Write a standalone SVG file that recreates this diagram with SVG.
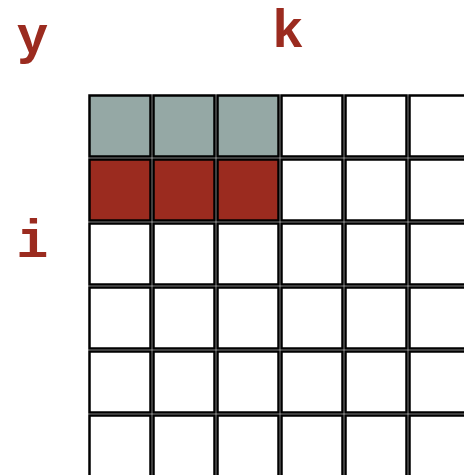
<svg xmlns="http://www.w3.org/2000/svg" width="464" height="475" viewBox="0 0 464 475">
<style>
.c{fill:#fff;stroke:#000;stroke-width:2.5}
.g{fill:#95a8a5}
.r{fill:#9b2b1f}
.t{font-family:"Liberation Mono","Courier New",monospace;font-weight:bold;font-size:53px;fill:#9b2b1f;text-anchor:middle}
</style>
<defs>
<rect id="cell" width="61" height="61"/>
</defs>
<g id="labels">
<text class="t" x="32.5" y="53">y</text>
<text class="t" x="288" y="47">k</text>
<text class="t" x="32.5" y="257">i</text>
</g>
<g id="grid">
<g id="row0">
<use href="#cell" class="c g" x="89.5" y="95.5"/>
<use href="#cell" class="c g" x="153.5" y="95.5"/>
<use href="#cell" class="c g" x="217.5" y="95.5"/>
<use href="#cell" class="c" x="281.5" y="95.5"/>
<use href="#cell" class="c" x="345.5" y="95.5"/>
<use href="#cell" class="c" x="409.5" y="95.5"/>
</g>
<g id="row1">
<use href="#cell" class="c r" x="89.5" y="159.5"/>
<use href="#cell" class="c r" x="153.5" y="159.5"/>
<use href="#cell" class="c r" x="217.5" y="159.5"/>
<use href="#cell" class="c" x="281.5" y="159.5"/>
<use href="#cell" class="c" x="345.5" y="159.5"/>
<use href="#cell" class="c" x="409.5" y="159.5"/>
</g>
<g id="row2">
<use href="#cell" class="c" x="89.5" y="223.5"/>
<use href="#cell" class="c" x="153.5" y="223.5"/>
<use href="#cell" class="c" x="217.5" y="223.5"/>
<use href="#cell" class="c" x="281.5" y="223.5"/>
<use href="#cell" class="c" x="345.5" y="223.5"/>
<use href="#cell" class="c" x="409.5" y="223.5"/>
</g>
<g id="row3">
<use href="#cell" class="c" x="89.5" y="287.5"/>
<use href="#cell" class="c" x="153.5" y="287.5"/>
<use href="#cell" class="c" x="217.5" y="287.5"/>
<use href="#cell" class="c" x="281.5" y="287.5"/>
<use href="#cell" class="c" x="345.5" y="287.5"/>
<use href="#cell" class="c" x="409.5" y="287.5"/>
</g>
<g id="row4">
<use href="#cell" class="c" x="89.5" y="351.5"/>
<use href="#cell" class="c" x="153.5" y="351.5"/>
<use href="#cell" class="c" x="217.5" y="351.5"/>
<use href="#cell" class="c" x="281.5" y="351.5"/>
<use href="#cell" class="c" x="345.5" y="351.5"/>
<use href="#cell" class="c" x="409.5" y="351.5"/>
</g>
<g id="row5">
<use href="#cell" class="c" x="89.5" y="415.5"/>
<use href="#cell" class="c" x="153.5" y="415.5"/>
<use href="#cell" class="c" x="217.5" y="415.5"/>
<use href="#cell" class="c" x="281.5" y="415.5"/>
<use href="#cell" class="c" x="345.5" y="415.5"/>
<use href="#cell" class="c" x="409.5" y="415.5"/>
</g>
</g>
</svg>
